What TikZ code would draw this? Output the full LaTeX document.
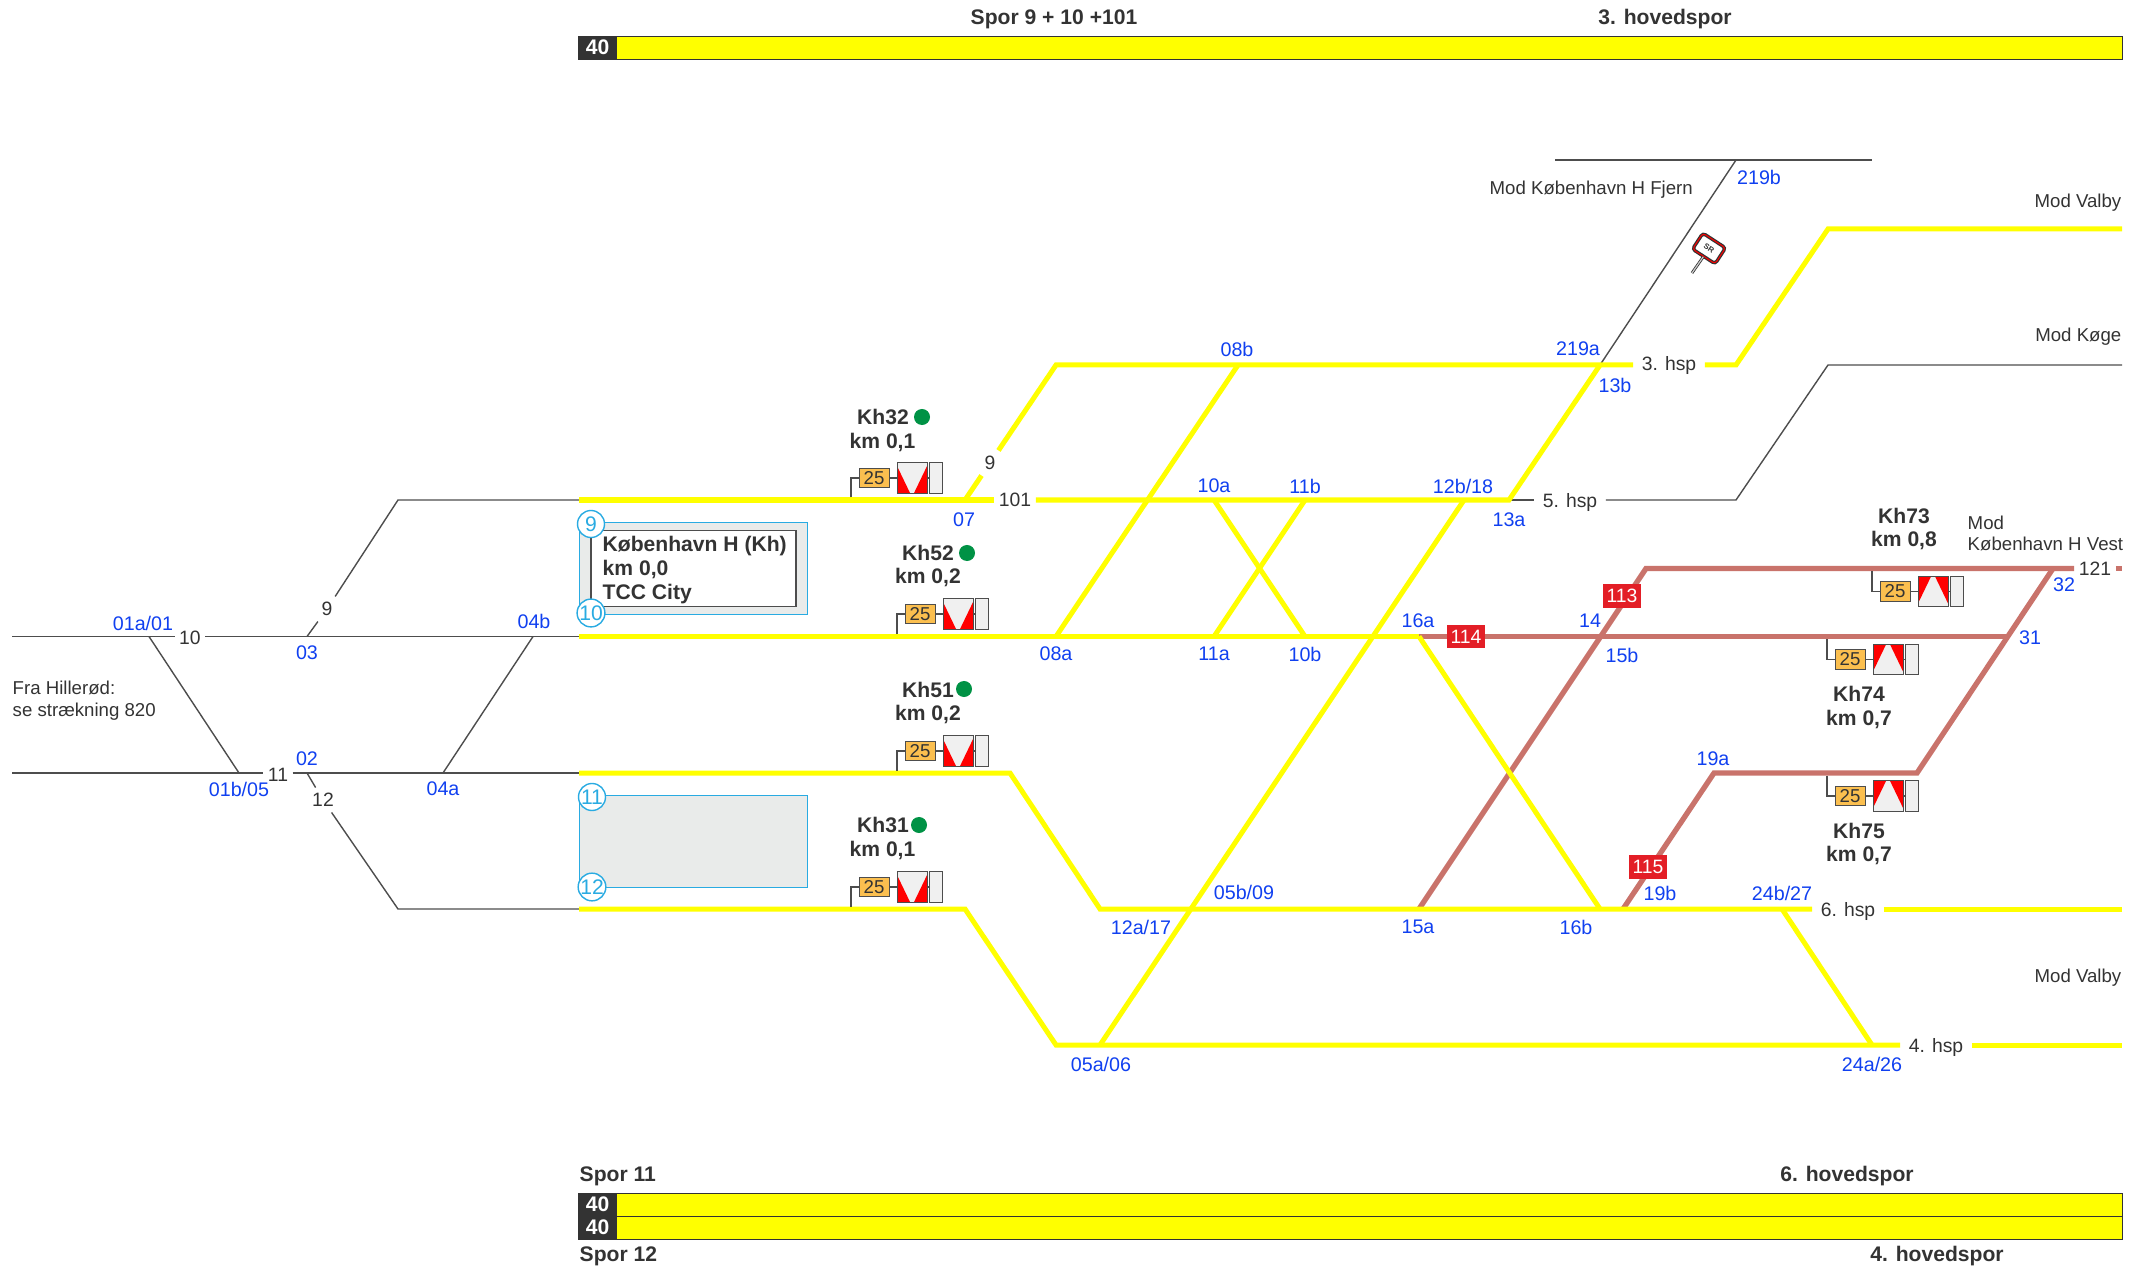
\documentclass[tikz,border=0pt]{standalone}
\usepackage{fontspec}
\setmainfont{Liberation Sans}
\definecolor{railyellow}{HTML}{FFFF00}
\definecolor{railpink}{HTML}{C9736B}
\definecolor{darktext}{HTML}{333333}
\definecolor{thingray}{HTML}{4D4D4D}
\definecolor{numblue}{HTML}{1040F0}
\definecolor{cyanline}{HTML}{29ABE2}
\definecolor{boxgray}{HTML}{E9EBEA}
\definecolor{speedorange}{HTML}{FBBF4F}
\definecolor{badgered}{HTML}{E31E26}
\definecolor{dotgreen}{HTML}{009245}
\definecolor{signwhite}{HTML}{F0F0F0}

\begin{document}
\begin{tikzpicture}[x=0.01cm, y=-0.01cm, font=\fontsize{5.3}{6.3}\selectfont, node distance=0.38cm,
    every node/.style={text=darktext, inner sep=0},
    trackyellow/.style={draw=railyellow, line width=0.05cm},
    trackpink/.style={draw=railpink, line width=0.053cm},
    trackthin/.style={draw=thingray, line width=0.014cm},
    swno/.style={text=numblue, yshift=-0.01cm, font=\fontsize{5.6}{6.5}\selectfont},
    gapno/.style={inner xsep=0.04cm, inner ysep=0.05cm, font=\fontsize{5.5}{6.5}\selectfont},
    gaphsp/.style={inner xsep=0.08cm, inner ysep=0.05cm, text depth=0pt, font=\fontsize{5.5}{6.5}\selectfont},
    bold/.style={font=\fontsize{6}{6.7}\selectfont\bfseries},
    badge/.style={fill=badgered, text=white, minimum width=0.38cm, minimum height=0.23cm, font=\fontsize{5.5}{6.5}\selectfont},
    barnum/.style={draw=darktext, fill=darktext, text=white, line width=0.006cm, minimum width=0.39cm, minimum height=0.23cm, font=\fontsize{6}{6.7}\selectfont\bfseries},
    baryellow/.style={draw=darktext, fill=railyellow, line width=0.006cm, minimum width=15.05cm, minimum height=0.23cm},
    speedbox/.style={draw=thingray, fill=speedorange, line width=0.01cm, minimum width=0.3cm, minimum height=0.19cm},
    sigdown/.style={draw=thingray, fill=signwhite, line width=0.01cm, minimum size=0.3cm,
        path picture={\fill[red] (path picture bounding box.south west) -- ++(0,-27) -- ++(13,27) -- cycle
            (path picture bounding box.south east) -- ++(0,-27) -- ++(-13,27) -- cycle;}},
    sigup/.style={draw=thingray, fill=signwhite, line width=0.01cm, minimum size=0.3cm,
        path picture={\fill[red] (path picture bounding box.north west) -- ++(0,27) -- ++(13,-27) -- cycle
            (path picture bounding box.north east) -- ++(0,27) -- ++(-13,-27) -- cycle;}},
    extrabox/.style={draw=thingray, fill=signwhite, line width=0.01cm, minimum width=0.13cm, minimum height=0.3cm, node distance=0.235cm},
    greendot/.style={circle, fill=dotgreen, minimum size=0.16cm},
    stationbox/.style={draw=cyanline, fill=boxgray, line width=0.01cm, minimum width=2.27cm, minimum height=0.91cm},
    platformno/.style={circle, draw=cyanline, fill=white, text=cyanline, line width=0.014cm, minimum size=0.27cm, font=\fontsize{6}{7}\selectfont},
    srsign/.style={draw=darktext, double=red, double distance=0.01cm, line width=0.012cm, fill=white, rounded corners=0.03cm, minimum width=0.27cm, minimum height=0.19cm, rotate=-33, font=\fontsize{2.2}{2.6}\selectfont\bfseries}]
    \useasboundingbox (0,0) rectangle (2142,1267);

    \coordinate (w10) at (12,636.5);
    \coordinate (w11) at (12,773);
    \coordinate (sw01a) at (149,636.5);
    \coordinate (sw01b) at (239,773);
    \coordinate (sw03) at (307,636.5);
    \coordinate (sw02) at (307,773);
    \coordinate (sw04a) at (443,773);
    \coordinate (sw04b) at (533,636.5);
    \coordinate (k9) at (398,500);
    \coordinate (k12) at (398,909);
    \coordinate (st9) at (579,500);
    \coordinate (st10) at (579,636.5);
    \coordinate (st11) at (579,773);
    \coordinate (st12) at (579,909);
    \coordinate (sw07) at (965,500);
    \coordinate (k3a) at (1056,365);
    \coordinate (sw08a) at (1056,636.5);
    \coordinate (sw08b) at (1238,365);
    \coordinate (sw10a) at (1214,500);
    \coordinate (sw10b) at (1305,636.5);
    \coordinate (sw11a) at (1214,636.5);
    \coordinate (sw11b) at (1305,500);
    \coordinate (sw12a) at (1010,773);
    \coordinate (sw17) at (1100,909);
    \coordinate (sw12b) at (1464,500);
    \coordinate (k4a) at (965,909);
    \coordinate (k4b) at (1056,1045);
    \coordinate (sw05a) at (1100,1045);
    \coordinate (sw13a) at (1509,500);
    \coordinate (sw13b) at (1600,365);
    \coordinate (k3b) at (1736,365);
    \coordinate (k3c) at (1828,229);
    \coordinate (r3) at (2122,229);
    \coordinate (k5b) at (1736,500);
    \coordinate (k5c) at (1828,365);
    \coordinate (r5) at (2122,365);
    \coordinate (sw219b) at (1736,160);
    \coordinate (fj1) at (1555,160);
    \coordinate (fj2) at (1872,160);
    \coordinate (sw16a) at (1419,636.5);
    \coordinate (sw16b) at (1600,909);
    \coordinate (sw15a) at (1419,909);
    \coordinate (k113) at (1646,568.5);
    \coordinate (sw31) at (2008,636.5);
    \coordinate (sw32) at (2053,568.5);
    \coordinate (k19a) at (1917,773);
    \coordinate (sw19a) at (1714,773);
    \coordinate (sw19b) at (1623,909);
    \coordinate (r121) at (2122,568.5);
    \coordinate (sw24b) at (1782,909);
    \coordinate (sw24a) at (1872,1045);
    \coordinate (r6) at (2122,909);
    \coordinate (r4) at (2122,1045);

    \node (g10) [gapno, text height=0.165cm] at (190,636.5) {10};
    \node (g11) [gapno, text height=0.165cm] at (278,773) {11};
    \node (g9) [gapno] at (327,609) {9};
    \node (g12) [gapno] at (323,800) {12};
    \node (g101) [gapno] at (1015,500) {101};
    \node (gy9) [gapno] at (990,463) {9};
    \node (g121) [gapno] at (2095,568.5) {121};
    \node (h3) [gaphsp, text depth=0.04cm] at (1669,365) {3. hsp};
    \node (h5) [gaphsp] at (1570,500) {5. hsp};
    \node (h6) [gaphsp] at (1848,909) {6. hsp};
    \node (h4) [gaphsp] at (1936,1045) {4. hsp};

    \draw[trackthin] (w10) -- (g10) -- (st10);
    \draw[trackthin] (w11) -- (g11) -- (st11);
    \draw[trackthin] (sw03) -- (g9) -- (k9) -- (st9);
    \draw[trackthin] (sw02) -- (g12) -- (k12) -- (st12);
    \draw[trackthin] (sw13a) -- (h5);
    \draw[trackthin] (h5) -- (k5b) -- (k5c) -- (r5);
    \path[trackthin]
    (sw01a) edge (sw01b)
    (sw04a) edge (sw04b)
    (fj1) edge (fj2)
    (sw219b) edge (sw13b)
    ;

    \draw[trackpink] (sw16a) -- (sw31);
    \draw[trackpink] (sw15a) -- (k113) -- (g121);
    \draw[trackpink] (g121) -- (r121);
    \draw[trackpink] (sw32) -- (k19a) -- (sw19a) -- (sw19b);

    \draw[trackyellow] (st9) -- (g101);
    \draw[trackyellow] (g101) -- (sw13a) -- (sw13b);
    \draw[trackyellow] (sw07) -- (gy9);
    \draw[trackyellow] (gy9) -- (k3a) -- (h3);
    \draw[trackyellow] (h3) -- (k3b) -- (k3c) -- (r3);
    \draw[trackyellow] (st10) -- (sw16a);
    \draw[trackyellow] (st11) -- (sw12a) -- (sw17) -- (h6);
    \draw[trackyellow] (h6) -- (r6);
    \draw[trackyellow] (st12) -- (k4a) -- (k4b) -- (h4);
    \draw[trackyellow] (h4) -- (r4);
    \path[trackyellow]
    (sw08a) edge (sw08b)
    (sw10a) edge (sw10b)
    (sw11a) edge (sw11b)
    (sw12b) edge (sw05a)
    (sw16a) edge (sw16b)
    (sw24b) edge (sw24a)
    ;

    \node (b113) [badge] at (1622,596) {113};
    \node (b114) [badge] at (1466,636.5) {114};
    \node (b115) [badge] at (1648,867) {115};

    \node (n01a) [swno] at (143,622) {01a/01};
    \node (n01b) [swno] at (239,788) {01b/05};
    \node (n03) [swno] at (307,652) {03};
    \node (n02) [swno] at (307,758) {02};
    \node (n04b) [swno] at (534,620) {04b};
    \node (n04a) [swno] at (443,788) {04a};
    \node (n07) [swno] at (964,519) {07};
    \node (n08b) [swno] at (1237,348) {08b};
    \node (n08a) [swno] at (1056,653) {08a};
    \node (n10a) [swno] at (1214,485) {10a};
    \node (n11b) [swno] at (1305,485) {11b};
    \node (n11a) [swno] at (1214,653) {11a};
    \node (n10b) [swno] at (1305,653) {10b};
    \node (n12b) [swno] at (1463,485) {12b/18};
    \node (n13a) [swno] at (1509,519) {13a};
    \node (n219a) [swno] at (1578,348) {219a};
    \node (n13b) [swno] at (1615,384) {13b};
    \node (n219b) [swno] at (1759,176) {219b};
    \node (n16a) [swno] at (1418,620) {16a};
    \node (n14) [swno] at (1590,620) {14};
    \node (n15b) [swno] at (1622,654) {15b};
    \node (n19a) [swno] at (1713,758) {19a};
    \node (n19b) [swno] at (1660,892) {19b};
    \node (n32) [swno] at (2064,584) {32};
    \node (n31) [swno] at (2030,637) {31};
    \node (n12a) [swno] at (1141,926) {12a/17};
    \node (n05b) [swno] at (1244,891) {05b/09};
    \node (n05a) [swno] at (1101,1063) {05a/06};
    \node (n15a) [swno] at (1418,926) {15a};
    \node (n16b) [swno] at (1576,926) {16b};
    \node (n24b) [swno] at (1782,892) {24b/27};
    \node (n24a) [swno] at (1872,1063) {24a/26};

    \node (hillerod) [anchor=west, align=left] at (12,701) {Fra Hillerød:\\se strækning 820};
    \node (fjern) [anchor=west] at (1489,190) {Mod København H Fjern};
    \node (valby1) [anchor=east] at (2122,202.5) {Mod Valby};
    \node (koge) [anchor=east] at (2122,337) {Mod Køge};
    \node (vest) [anchor=west, align=left, font=\fontsize{5.3}{6}\selectfont] at (1967,533) {Mod\\København H Vest};
    \node (valby2) [anchor=east] at (2122,977.5) {Mod Valby};

    \node (num1) [barnum] at (597.5,47.5) {40};
    \node (bar1) [baryellow] at (1369.5,47.5) {};
    \node (num2) [barnum] at (597.5,1204.5) {40};
    \node (bar2) [baryellow] at (1369.5,1204.5) {};
    \node (num3) [barnum] at (597.5,1227.5) {40};
    \node (bar3) [baryellow] at (1369.5,1227.5) {};
    \node (top1) [bold] at (1054,19) {Spor 9 + 10 +101};
    \node (top2) [bold] at (1665,19) {3. hovedspor};
    \node (spor11) [bold, anchor=west] at (579,1176) {Spor 11};
    \node (hs6) [bold] at (1847,1176) {6. hovedspor};
    \node (spor12) [bold, anchor=west] at (579,1256) {Spor 12};
    \node (hs4) [bold] at (1937,1256) {4. hovedspor};

    \node (box1) [stationbox] at (693.5,568.5) {};
    \node (box2) [stationbox] at (693.5,841.5) {};
    \node (inner) [draw=thingray, fill=white, line width=0.015cm, minimum width=2.05cm, minimum height=0.76cm] at (693.5,568.5) {};
    \node (station) [bold, anchor=west, align=left] at (602,570) {København H (Kh)\\km 0,0\\TCC City};
    \node (p9) [platformno] at (591,524) {9};
    \node (p10) [platformno] at (591,613) {10};
    \node (p11) [platformno] at (592,797) {11};
    \node (p12) [platformno] at (592,887) {12};

    \node (l32) [bold] at (883,417) {Kh32};
    \node (d32) [greendot] at (922,417) {};
    \node (k32) [bold] at (882.5,442) {km 0,1};
    \coordinate (c32) at (851,497.5);
    \node (t32) [speedbox] at (874,478) {25};
    \node (s32) [sigdown, right of=t32] {};
    \node (e32) [extrabox, right of=s32] {};

    \node (l52) [bold] at (928,553) {Kh52};
    \node (d52) [greendot] at (967,553) {};
    \node (k52) [bold] at (928,577) {km 0,2};
    \coordinate (c52) at (897,634);
    \node (t52) [speedbox] at (920,614) {25};
    \node (s52) [sigdown, right of=t52] {};
    \node (e52) [extrabox, right of=s52] {};

    \node (l51) [bold] at (928,690) {Kh51};
    \node (d51) [greendot] at (964,689) {};
    \node (k51) [bold] at (928,714) {km 0,2};
    \coordinate (c51) at (897,770.5);
    \node (t51) [speedbox] at (920,751) {25};
    \node (s51) [sigdown, right of=t51] {};
    \node (e51) [extrabox, right of=s51] {};

    \node (l31) [bold] at (883,825) {Kh31};
    \node (d31) [greendot] at (919,825) {};
    \node (k31) [bold] at (882.5,850) {km 0,1};
    \coordinate (c31) at (851,906.5);
    \node (t31) [speedbox] at (874,887) {25};
    \node (s31) [sigdown, right of=t31] {};
    \node (e31) [extrabox, right of=s31] {};

    \node (l73) [bold] at (1904,516) {Kh73};
    \node (k73) [bold] at (1904,540) {km 0,8};
    \coordinate (c73) at (1872,571);
    \node (t73) [speedbox] at (1895,591.5) {25};
    \node (s73) [sigup, right of=t73] {};
    \node (e73) [extrabox, right of=s73] {};

    \node (l74) [bold] at (1859,694) {Kh74};
    \node (k74) [bold] at (1859,719) {km 0,7};
    \coordinate (c74) at (1827,639);
    \node (t74) [speedbox] at (1850,659.5) {25};
    \node (s74) [sigup, right of=t74] {};
    \node (e74) [extrabox, right of=s74] {};

    \node (l75) [bold] at (1859,831) {Kh75};
    \node (k75) [bold] at (1859,855) {km 0,7};
    \coordinate (c75) at (1827,775.5);
    \node (t75) [speedbox] at (1850,796) {25};
    \node (s75) [sigup, right of=t75] {};
    \node (e75) [extrabox, right of=s75] {};

    \draw[trackthin] (c32) |- (t32);
    \draw[trackthin] (c52) |- (t52);
    \draw[trackthin] (c51) |- (t51);
    \draw[trackthin] (c31) |- (t31);
    \draw[trackthin] (c73) |- (t73);
    \draw[trackthin] (c74) |- (t74);
    \draw[trackthin] (c75) |- (t75);
    \path[trackthin]
    (t32) edge (s32) (s32) edge (e32)
    (t52) edge (s52) (s52) edge (e52)
    (t51) edge (s51) (s51) edge (e51)
    (t31) edge (s31) (s31) edge (e31)
    (t73) edge (s73) (s73) edge (e73)
    (t74) edge (s74) (s74) edge (e74)
    (t75) edge (s75) (s75) edge (e75)
    ;

    \node (sr) [srsign] at (1709,248.5) {SR};
    \coordinate (srfoot) at (1692,273);
    \draw[draw=darktext, double=gray!40, double distance=0.012cm, line width=0.008cm] (sr) -- (srfoot);
\end{tikzpicture}
\end{document}
